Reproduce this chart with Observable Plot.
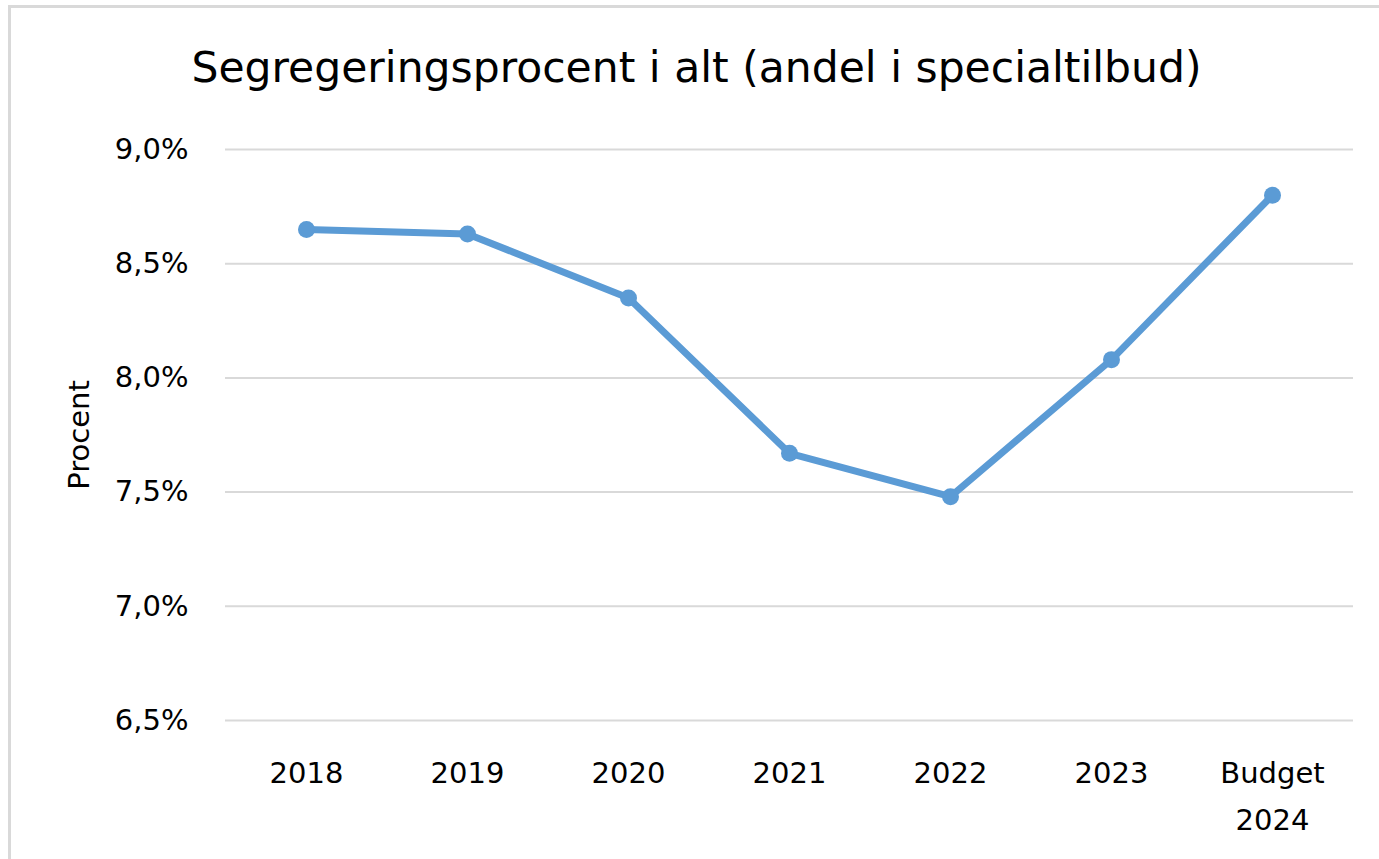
<!DOCTYPE html>
<html>
<head>
<meta charset="utf-8">
<script src="https://cdn.jsdelivr.net/npm/d3@7"></script>
<script src="https://cdn.jsdelivr.net/npm/@observablehq/plot@0.6"></script>
<style>
  html, body { margin: 0; padding: 0; background: #fff; }
  #wrap { position: relative; width: 1379px; height: 859px; overflow: hidden; font-family: "DejaVu Sans", sans-serif; }
  #frame { position: absolute; left: 8px; top: 5px; width: 1400px; height: 900px; border-left: 3px solid #d9d9d9; border-top: 3px solid #d9d9d9; box-sizing: border-box; pointer-events: none; }
  #title { height: 110px; box-sizing: border-box; padding-top: 46px; padding-left: 14px; text-align: center; font-size: 42.5px; line-height: 43px; color: #000; white-space: nowrap; }
  #chart svg { display: block; }
</style>
</head>
<body>
<div id="wrap">
  <div id="frame"></div>
  <div id="title">Segregeringsprocent i alt (andel i specialtilbud)</div>
  <div id="chart"></div>
</div>
<script>
const categories = ["2018", "2019", "2020", "2021", "2022", "2023", "Budget\n2024"];
const values = [8.65, 8.63, 8.35, 7.67, 7.48, 8.08, 8.80];
const yTicks = [6.5, 7.0, 7.5, 8.0, 8.5, 9.0];

const data = categories.map((c, i) => ({ category: c, value: values[i] }));
const fmt = d => d.toFixed(1).replace(".", ",") + "%";
const color = "#5b9bd5";

const chart = Plot.plot({
  width: 1379,
  height: 749,
  marginTop: 39,
  marginBottom: 139,
  marginLeft: 225,
  marginRight: 26,
  style: { fontFamily: "'DejaVu Sans', sans-serif", fontSize: "29px", color: "#000", background: "#fff", overflow: "visible" },
  x: { type: "point", domain: categories, padding: 0.5 },
  y: { domain: [6.5, 9.0] },
  marks: [
    Plot.gridY(yTicks, { stroke: "#d9d9d9", strokeWidth: 2, strokeOpacity: 1 }),
    Plot.axisY(yTicks, { tickSize: 0, tickPadding: 37, tickFormat: fmt, label: "Procent", labelAnchor: "center", labelArrow: "none", labelOffset: 157, fontSize: 29 }),
    Plot.axisX({ tickSize: 0, tickPadding: 29, label: null, lineHeight: 1.62, fontSize: 29 }),
    Plot.line(data, { x: "category", y: "value", stroke: color, strokeWidth: 7, strokeLinejoin: "round" }),
    Plot.dot(data, { x: "category", y: "value", fill: color, r: 8.5 })
  ]
});
document.getElementById("chart").appendChild(chart);
</script>
</body>
</html>
